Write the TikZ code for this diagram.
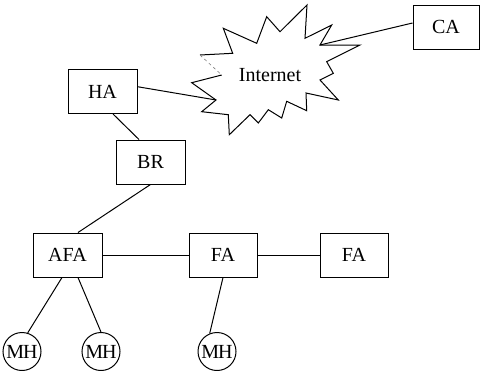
\documentclass[tikz,border=0pt]{standalone}
\usepackage{fontspec}
\setmainfont{Liberation Serif}
\usetikzlibrary{positioning}
\begin{document}
\begin{tikzpicture}[x=1pt, y=-1pt, line width=1pt,
    font=\fontsize{20}{22}\selectfont,
    agent/.style={draw, minimum width=69pt, minimum height=44pt, inner sep=0pt},
    host/.style={draw, circle, minimum size=38pt, inner sep=0pt, font=\fontsize{20}{20}\selectfont}]
    \useasboundingbox (0,0) rectangle (481,370);
    \node[agent] (HA) at (102.5,91.5) {HA};
    \node[agent] (BR) at (150.5,162) {BR};
    \node[agent, minimum width=66pt] (CA) at (446,27) {CA};
    \node[agent] (AFA) at (67.5,255) {AFA};
    \node[agent, minimum width=68pt] (FA1) at (223,255) {FA};
    \node[agent, minimum width=68pt] (FA2) at (354,255) {FA};
    \foreach \n/\x in {MH1/22, MH2/101, MH3/217}
        \node[host] (\n) at (\x,351.5) {M\kern-1ptH};
    % the cloud
    \node (net) at (270,75) {Internet};
    \draw[line join=miter] (221.7,75) -- (191.7,82.7) -- (216,100) -- (201.7,111.7) -- (228.3,114.7)
        -- (229.3,134.7) -- (250,114.7) -- (258.3,123) -- (268.3,109.7) -- (281.7,118)
        -- (286.7,101.3) -- (306.7,110.7) -- (306,93) -- (338.3,100) -- (320,80)
        -- (333.3,73.3) -- (326.7,61.7) -- (360,45) -- (320,45) -- (331.7,25)
        -- (305,38.3) -- (307,5) -- (280,31.7) -- (266.7,16.7) -- (256.7,43.3)
        -- (223.3,28.3) -- (232.7,53.3) -- (200,55);
    \draw[dashed, gray, line width=0.6pt] (200,55) -- (221.7,75);
    \coordinate (netL) at (216,100);
    \coordinate (netR) at (320,45);
    \draw ([yshift=4.8pt]HA.east) -- (netL);
    \draw (netR) -- ([yshift=4pt]CA.west);
    \draw ([xshift=10.5pt]HA.south) -- ([xshift=-11.5pt]BR.north);
    \draw (BR.south) -- ([xshift=10.5pt]AFA.north);
    \draw (AFA) -- (FA1);
    \draw (FA1) -- (FA2);
    \draw ([xshift=-5.5pt]AFA.south) -- (MH1.73);
    \draw ([xshift=10.5pt]AFA.south) -- (MH2.north);
    \draw (FA1.south) -- (MH3.112);
\end{tikzpicture}
\end{document}
